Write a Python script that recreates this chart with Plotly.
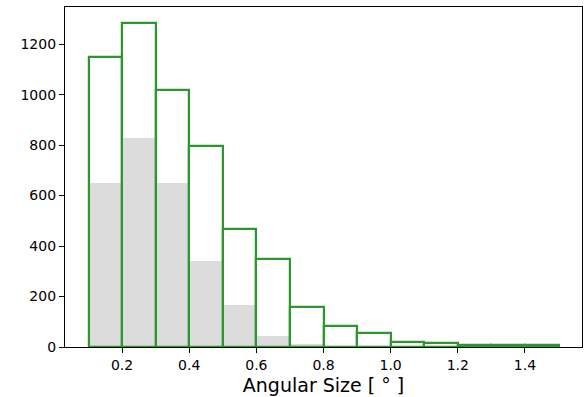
import plotly.graph_objects as go

# Histogram bins (angular size, degrees)
bin_left = [0.1, 0.2, 0.3, 0.4, 0.5, 0.6, 0.7, 0.8, 0.9, 1.0, 1.1, 1.2, 1.3, 1.4]
bin_width = 0.1

# Counts per bin: full sample (outlined) and subset (filled gray)
counts_all = [1150, 1283, 1018, 796, 467, 350, 160, 84, 57, 20, 14, 9, 9, 9]
counts_sub = [651, 829, 651, 342, 165, 42, 12, 2, 1, 0, 0, 0, 0, 0]

x_ticks = [0.2, 0.4, 0.6, 0.8, 1.0, 1.2, 1.4]
y_ticks = [0, 200, 400, 600, 800, 1000, 1200]

centers = [b + bin_width / 2 for b in bin_left]

fig = go.Figure()
fig.add_trace(go.Bar(
    x=centers, y=counts_sub, width=bin_width,
    marker=dict(color="#dcdcdc", line=dict(width=0)),
    showlegend=False,
))
fig.add_trace(go.Bar(
    x=centers, y=counts_all, width=bin_width,
    marker=dict(color="rgba(0,0,0,0)", line=dict(color="#2e962e", width=2.2)),
    showlegend=False,
))

x_min = bin_left[0] - 0.05 * (bin_left[-1] + bin_width - bin_left[0])
x_max = bin_left[-1] + bin_width + 0.05 * (bin_left[-1] + bin_width - bin_left[0])
y_max = max(counts_all) * 1.05

axis_common = dict(
    showline=True, linecolor="black", linewidth=1.3, mirror=True,
    ticks="outside", ticklen=5, tickwidth=1, tickcolor="black",
    showgrid=False, zeroline=False,
    tickfont=dict(family="DejaVu Sans", size=14, color="black"),
)

fig.update_layout(
    width=584, height=397,
    margin=dict(l=65, r=2, t=7, b=50),
    paper_bgcolor="white", plot_bgcolor="white",
    barmode="overlay", bargap=0,
    xaxis=dict(
        range=[x_min, x_max], tickvals=x_ticks,
        ticktext=[f"{v:.1f}" for v in x_ticks],
        title=dict(text="Angular Size [ ° ]", standoff=6,
                   font=dict(family="DejaVu Sans", size=19, color="black")),
        **axis_common,
    ),
    yaxis=dict(range=[0, y_max], tickvals=y_ticks, **axis_common),
)

fig.write_html("out.html")
